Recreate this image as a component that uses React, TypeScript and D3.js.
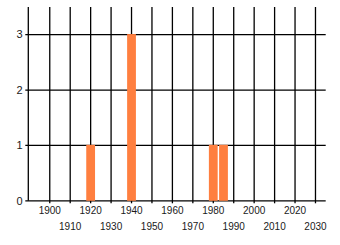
import React from "react";
import * as d3 from "d3";

const years = [1920, 1940, 1980, 1985];
const counts = [1, 3, 1, 1];
const xTicks = [1900, 1910, 1920, 1930, 1940, 1950, 1960, 1970, 1980, 1990, 2000, 2010, 2020, 2030];
const yTicks = [0, 1, 2, 3];

export default function App() {
  const W = 340, H = 245;
  const x = d3.scaleLinear().domain([1889.5, 2035]).range([28.3, 325.7]);
  const y = d3.scaleLinear().domain([0, 3.5]).range([200.8, 7]);
  const barW = x(1924.3) - x(1920);
  const font = "'Liberation Sans', Arial, sans-serif";
  return (
    <svg width={W} height={H} style={{ position: "absolute", left: 0, top: 0, background: "#fff" }}>
      {xTicks.map((t) => (
        <line key={t} x1={x(t)} x2={x(t)} y1={y(3.5)} y2={y(0) + 2.5} stroke="#000" strokeWidth={1.3} />
      ))}
      <line x1={x(1889.5)} x2={x(1889.5)} y1={y(3.5)} y2={y(0)} stroke="#000" strokeWidth={1.3} />
      {yTicks.map((t) => (
        <line key={t} x1={x(1889.5) - 3} x2={x(2035)} y1={y(t)} y2={y(t)} stroke="#000" strokeWidth={1.3} />
      ))}
      {years.map((yr, i) => (
        <rect key={i} x={x(yr) - barW / 2} y={y(counts[i]) - 0.6} width={barW} height={y(0) - y(counts[i]) + 0.6} fill="#FF7F3F" />
      ))}
      {yTicks.map((t) => (
        <text key={t} x={22.5} y={y(t) + 3.8} textAnchor="end" fontFamily={font} fontSize={11} fill="#1a1a1a">{t}</text>
      ))}
      {xTicks.map((t, i) => (
        <text key={t} x={x(t)} y={i % 2 === 0 ? 214 : 230} textAnchor="middle" fontFamily={font} fontSize={10} fill="#1a1a1a">{t}</text>
      ))}
    </svg>
  );
}
